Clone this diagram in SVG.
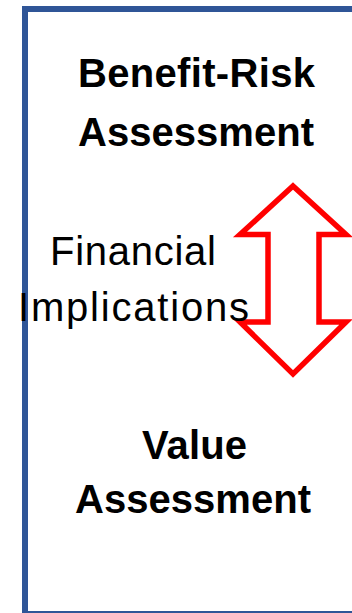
<svg xmlns="http://www.w3.org/2000/svg" width="352" height="613" viewBox="0 0 352 613">
  <style>
    .frame { fill: #ffffff; stroke: #2F5597; stroke-width: 6; }
    .bold { font-family: "Liberation Sans", Arial, sans-serif; font-weight: bold; font-size: 40px; fill: #000000; }
    .reg { font-family: "Liberation Sans", Arial, sans-serif; font-size: 40px; fill: #000000; }
    .arrow { fill: #ffffff; stroke: #FF0000; stroke-width: 5.5; stroke-linejoin: miter; stroke-miterlimit: 10; }
  </style>
  <rect width="352" height="613" fill="#ffffff"/>
  <g id="frame">
    <rect class="frame" x="25" y="9" width="400" height="605"/>
  </g>
  <g id="connectors">
    <g id="double-arrow">
      <polygon class="arrow" points="293,186 346,234.5 319,234.5 319,322 346,322 293,374 240,322 268,322 268,234.5 240,234.5"/>
    </g>
  </g>
  <g id="benefit-risk">
    <text class="bold" x="78" y="87" textLength="237">Benefit-Risk</text>
    <text class="bold" x="78" y="146" textLength="236">Assessment</text>
  </g>
  <g id="financial">
    <text class="reg" x="50" y="265" textLength="166">Financial</text>
    <text class="reg" x="18" y="321" textLength="231">Implications</text>
  </g>
  <g id="value">
    <text class="bold" x="142" y="459" textLength="105">Value</text>
    <text class="bold" x="75" y="513" textLength="236">Assessment</text>
  </g>
</svg>
